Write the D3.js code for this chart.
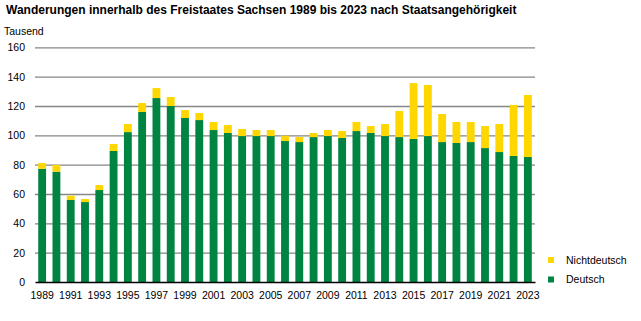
<!DOCTYPE html>
<html>
<head>
<meta charset="utf-8">
<script src="https://cdn.jsdelivr.net/npm/d3@7"></script>
<style>
  body { margin: 0; background: #fff; }
  svg { display: block; font-family: Arial, "Liberation Sans", sans-serif; }
</style>
</head>
<body>
<svg id="chart"></svg>
<script>
// Wanderungen innerhalb Sachsens, in Tausend
const years = d3.range(1989, 2024);
const deutsch = [
  77.2, 75.2, 55.9, 54.5, 62.7, 89.3, 102.2, 115.9, 125.4, 120.0,
  111.8, 110.4, 103.6, 101.6, 99.5, 99.5, 99.5, 96.1, 95.4, 98.8,
  99.5, 98.2, 102.9, 101.6, 99.5, 98.8, 97.5, 99.5, 95.4, 94.8,
  95.4, 91.3, 88.6, 85.9, 85.2
];
const nichtdeutsch = [
  3.9, 4.6, 2.9, 2.1, 3.4, 4.8, 5.5, 6.1, 6.8, 6.1,
  5.4, 4.8, 5.5, 5.4, 4.8, 4.1, 4.1, 3.6, 3.4, 2.8,
  4.1, 4.7, 6.2, 4.7, 8.2, 17.8, 38.1, 34.8, 19.1, 14.3,
  13.7, 15.0, 19.1, 34.8, 42.3
];
const yTicks = [0, 20, 40, 60, 80, 100, 120, 140, 160];
const xLabels = years.filter(y => (y - 1989) % 2 === 0);

const series = ["Deutsch", "Nichtdeutsch"];
const colors = { Deutsch: "#008442", Nichtdeutsch: "#FFD700" };

const width = 641;
const height = 321;
const margin = { top: 47.3, right: 106, bottom: 39, left: 35 };

const svg = d3.select("#chart").attr("width", width).attr("height", height);

const innerWidth = width - margin.left - margin.right;
const innerHeight = height - margin.top - margin.bottom;

const rows = years.map((y, i) => ({ year: y, Deutsch: deutsch[i], Nichtdeutsch: nichtdeutsch[i] }));
const stacked = d3.stack().keys(series)(rows);

const x = d3.scaleBand().domain(years).range([0, innerWidth]).paddingInner(0.45).paddingOuter(0.225);
const y = d3.scaleLinear().domain([0, 160]).range([innerHeight, 0]);

const g = svg.append("g").attr("transform", `translate(${margin.left},${margin.top})`);

// Title
svg.append("text")
  .attr("x", 6).attr("y", 14)
  .style("font-size", "12px").style("font-weight", "bold")
  .text("Wanderungen innerhalb des Freistaates Sachsen 1989 bis 2023 nach Staatsangehörigkeit");

svg.append("text")
  .attr("x", 4).attr("y", 35.3)
  .style("font-size", "10.5px")
  .text("Tausend");

// Grid + y labels
const yAxis = g.append("g")
  .call(d3.axisLeft(y).tickValues(yTicks).tickSize(-innerWidth).tickPadding(10));
yAxis.select(".domain").remove();
yAxis.selectAll(".tick line").attr("stroke", "#868686").attr("stroke-width", 1.3)
  .attr("display", d => d === 0 ? "none" : null);
yAxis.selectAll(".tick text").attr("x", -10).style("font-size", "10.5px").style("font-family", "Arial, 'Liberation Sans', sans-serif").attr("fill", "#000");

// Bars
g.selectAll(".layer")
  .data(stacked)
  .enter()
  .append("g")
  .attr("fill", d => colors[d.key])
  .selectAll("rect")
  .data(d => d)
  .enter()
  .append("rect")
  .attr("x", d => x(d.data.year))
  .attr("y", d => y(d[1]))
  .attr("width", x.bandwidth())
  .attr("height", d => y(d[0]) - y(d[1]));

// x axis
const xAxis = g.append("g")
  .attr("transform", `translate(0,${innerHeight})`)
  .call(d3.axisBottom(x).tickValues(xLabels).tickSize(0).tickPadding(10));
xAxis.select(".domain").attr("stroke", "#000").attr("stroke-width", 1.5);
xAxis.selectAll(".tick text").style("font-size", "10.5px").style("font-family", "Arial, 'Liberation Sans', sans-serif").attr("fill", "#000");

// Legend
const legend = svg.append("g").attr("transform", "translate(548,0)");
[["Nichtdeutsch", 260], ["Deutsch", 279.5]].forEach(([key, cy]) => {
  legend.append("rect").attr("x", 0).attr("y", cy - 3).attr("width", 6).attr("height", 6).attr("fill", colors[key]);
  legend.append("text").attr("x", 18).attr("y", cy).attr("dy", "0.35em")
    .style("font-size", "10.5px").text(key);
});
</script>
</body>
</html>
